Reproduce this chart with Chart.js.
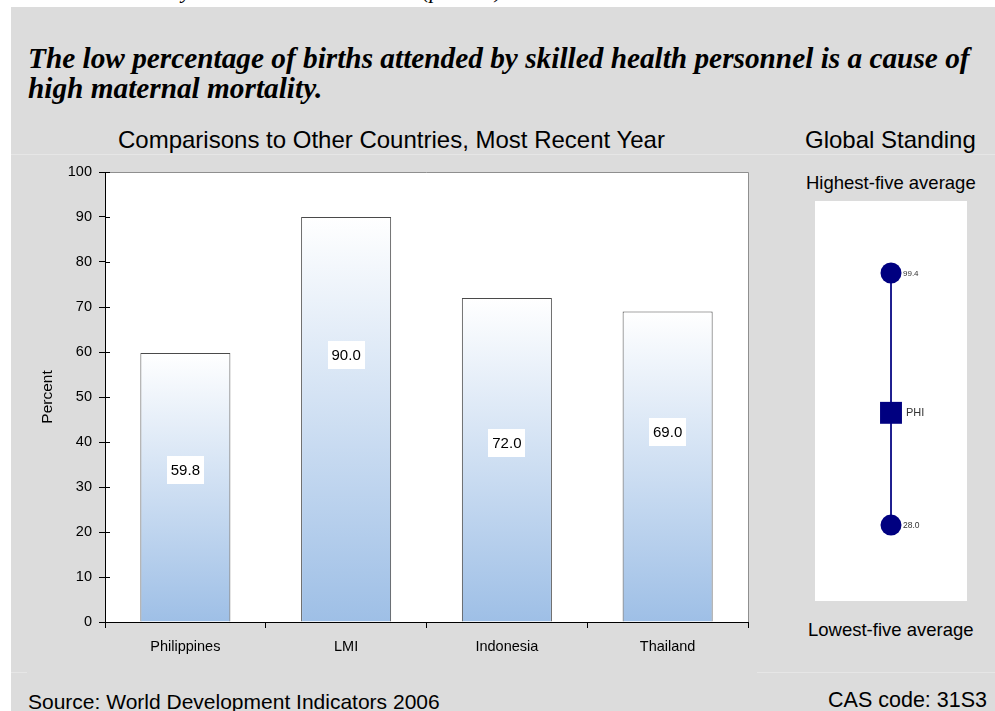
<!DOCTYPE html>
<html>
<head>
<meta charset="utf-8">
<title>Births Attended by Skilled Health Personnel</title>
<script src="https://cdn.jsdelivr.net/npm/chart.js@4.4.0/dist/chart.umd.min.js"></script>
<style>
    html, body { margin: 0; padding: 0; background: #fff; }
    #page { position: relative; width: 995px; height: 711px; overflow: hidden;
            font-family: Arial, "Liberation Sans", sans-serif; color: #000; }
    #bg { position: absolute; left: 11px; top: 7px; right: 0; bottom: 0; background: #dcdcdc; }
    .rule { position: absolute; height: 1px; background: #e6e6e6; }
    .txt { position: absolute; white-space: nowrap; line-height: 1; }
    .serif { font-family: "Times New Roman", "Liberation Serif", serif; font-style: italic; }
    #barWrap { position: absolute; left: 0; top: 154px; width: 760px; height: 518px; }
    #standWrap { position: absolute; left: 815px; top: 201px; width: 152px; height: 400px; background: #fff; }
</style>
</head>
<body>
<div id="page">
    <div id="bg"></div>
    <div class="rule" style="left:11px; right:0; top:154px;"></div>
    <div class="rule" style="left:11px; width:16px; top:672px;"></div>
    <div class="rule" style="left:757px; right:0; top:672px;"></div>

    <div class="txt serif" style="left:28px; top:-20px; font-size:22px;">Births Attended by Skilled Health Personnel (percent)</div>
    <div class="txt serif" style="left:28px; top:43px; font-size:29.3px; font-weight:bold; line-height:30px;">The low percentage of births attended by skilled health personnel is a cause of<br>high maternal mortality.</div>

    <div class="txt" style="left:118px; top:128px; font-size:24px;">Comparisons to Other Countries, Most Recent Year</div>
    <div class="txt" style="left:805px; top:128px; font-size:24px;">Global Standing</div>
    <div class="txt" id="hiLabel" style="left:806px; top:174px; font-size:18.5px;"></div>
    <div class="txt" id="loLabel" style="left:808px; top:621px; font-size:18.5px;"></div>

    <div class="txt" style="left:28px; top:691px; font-size:21px;">Source: World Development Indicators 2006</div>
    <div class="txt" style="right:8px; top:690px; font-size:21.5px;">CAS code: 31S3</div>

    <div id="barWrap"><canvas id="barChart" width="760" height="518"></canvas></div>
    <div id="standWrap"><canvas id="standChart" width="152" height="400"></canvas></div>
</div>

<script>
// Comparison bars
const categories = ['Philippines', 'LMI', 'Indonesia', 'Thailand'];
const percentValues = [59.8, 90.0, 72.0, 69.0];

// Global standing strip
const standingLabels = ['Highest-five average', 'Lowest-five average'];
const highestFiveAvg = 99.4;
const lowestFiveAvg = 28.0;
const countryCode = 'PHI';
const countryValue = 59.8;

document.getElementById('hiLabel').textContent = standingLabels[0];
document.getElementById('loLabel').textContent = standingLabels[1];

const BAR_TOP = '#ffffff';
const BAR_BOTTOM = '#9ebfe6';
const NAVY = '#000080';
const FONT = 'Arial, "Liberation Sans", sans-serif';

// white plot background plus grey top/right frame
const plotFrame = {
    id: 'plotFrame',
    beforeDraw(chart) {
        const { ctx, chartArea: a } = chart;
        ctx.save();
        ctx.fillStyle = '#fff';
        ctx.fillRect(a.left, a.top, a.right - a.left, a.bottom - a.top);
        ctx.restore();
    },
    afterDraw(chart) {
        const { ctx, chartArea: a } = chart;
        ctx.save();
        ctx.strokeStyle = '#8f8f8f';
        ctx.lineWidth = 1;
        ctx.beginPath();
        ctx.moveTo(a.left, a.top + 0.5);
        ctx.lineTo(a.right + 0.5, a.top + 0.5);
        ctx.lineTo(a.right + 0.5, a.bottom);
        ctx.stroke();
        // y ticks cross the axis, draw the inner half
        const y = chart.scales.y;
        ctx.strokeStyle = '#000';
        ctx.beginPath();
        y.ticks.forEach(t => {
            const py = Math.round(y.getPixelForValue(t.value)) + 0.5;
            ctx.moveTo(a.left, py);
            ctx.lineTo(a.left + 5, py);
        });
        ctx.stroke();
        ctx.restore();
    }
};

// boxed value labels inside the bars
const valueBoxes = {
    id: 'valueBoxes',
    afterDatasetsDraw(chart, args, opts) {
        const { ctx } = chart;
        const y = chart.scales.y;
        const meta = chart.getDatasetMeta(0);
        ctx.save();
        ctx.font = '15px ' + FONT;
        ctx.textAlign = 'center';
        ctx.textBaseline = 'middle';
        meta.data.forEach((bar, i) => {
            const text = percentValues[i].toFixed(1);
            const cy = y.getPixelForValue(opts.anchors[i]);
            const w = ctx.measureText(text).width + 8;
            ctx.fillStyle = '#fff';
            ctx.fillRect(Math.round(bar.x - w / 2), Math.round(cy - 14), Math.round(w), 28);
            ctx.fillStyle = '#000';
            ctx.fillText(text, bar.x, cy + 1);
        });
        ctx.restore();
    }
};

function barGradient(ctx) {
    const y = ctx.chart.scales.y;
    if (!y || ctx.raw == null) return BAR_BOTTOM;
    const top = y.getPixelForValue(ctx.raw);
    const bottom = y.getPixelForValue(0);
    if (!isFinite(top) || !isFinite(bottom)) return BAR_BOTTOM;
    const g = ctx.chart.ctx.createLinearGradient(0, top, 0, bottom);
    g.addColorStop(0, BAR_TOP);
    g.addColorStop(1, BAR_BOTTOM);
    return g;
}

new Chart(document.getElementById('barChart'), {
    type: 'bar',
    data: {
        labels: categories,
        datasets: [{
            data: percentValues,
            backgroundColor: barGradient,
            borderColor: '#4a4a4a',
            borderWidth: 1,
            borderSkipped: 'bottom',
            barPercentage: 0.56,
            categoryPercentage: 1
        }]
    },
    options: {
        responsive: false,
        animation: false,
        layout: { padding: { left: 0, top: 18, right: 12, bottom: 0 } },
        plugins: {
            legend: { display: false },
            tooltip: { enabled: false },
            valueBoxes: { anchors: [33.8, 59.3, 39.8, 42.2] }
        },
        scales: {
            x: {
                afterFit: s => { s.height = 50; },
                grid: { offset: true, drawOnChartArea: false, tickLength: 6, color: '#000' },
                border: { color: '#000', width: 1 },
                ticks: { color: '#000', padding: 10, font: { family: FONT, size: 14.5 } }
            },
            y: {
                min: 0,
                max: 100,
                afterFit: s => { s.width = 105; },
                grid: { drawOnChartArea: false, tickLength: 6, color: '#000' },
                border: { color: '#000', width: 1 },
                ticks: { stepSize: 10, color: '#000', padding: 7, font: { family: FONT, size: 14.5 } },
                title: {
                    display: true,
                    text: 'Percent',
                    color: '#000',
                    padding: { top: 38, bottom: 0 },
                    font: { family: FONT, size: 15.5 }
                }
            }
        }
    },
    plugins: [plotFrame, valueBoxes]
});

// labels beside the standing markers
const markerLabels = {
    id: 'markerLabels',
    afterDatasetsDraw(chart) {
        const { ctx } = chart;
        const pts = chart.getDatasetMeta(0).data;
        const items = [
            { text: highestFiveAvg.toFixed(1), size: 8, dx: 12 },
            { text: countryCode, size: 11, dx: 15 },
            { text: lowestFiveAvg.toFixed(1), size: 8.5, dx: 12 }
        ];
        ctx.save();
        ctx.fillStyle = '#333';
        ctx.textAlign = 'left';
        ctx.textBaseline = 'middle';
        pts.forEach((p, i) => {
            ctx.font = items[i].size + 'px ' + FONT;
            ctx.fillText(items[i].text, p.x + items[i].dx, p.y + 0.5);
        });
        ctx.restore();
    }
};

new Chart(document.getElementById('standChart'), {
    type: 'scatter',
    data: {
        datasets: [{
            data: [
                { x: 0, y: highestFiveAvg },
                { x: 0, y: countryValue },
                { x: 0, y: lowestFiveAvg }
            ],
            showLine: true,
            borderColor: NAVY,
            borderWidth: 1,
            pointStyle: ['circle', 'rect', 'circle'],
            pointRadius: [10.5, 15.5, 10.5],
            pointBackgroundColor: NAVY,
            pointBorderColor: NAVY,
            pointBorderWidth: 0
        }]
    },
    options: {
        responsive: false,
        animation: false,
        layout: { padding: 0, autoPadding: false },
        plugins: { legend: { display: false }, tooltip: { enabled: false } },
        scales: {
            x: { display: false, min: -1, max: 1 },
            y: { display: false, min: 6.5, max: 119.8 }
        }
    },
    plugins: [markerLabels]
});
</script>
</body>
</html>
